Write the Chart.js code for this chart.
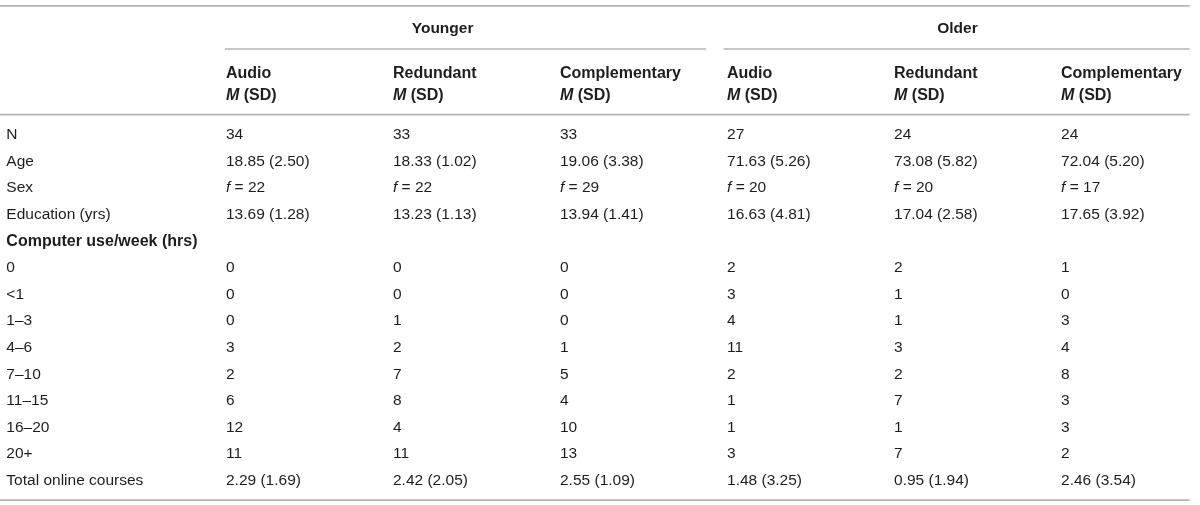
<!DOCTYPE html>
<html>
<head>
<meta charset="utf-8">
<script src="https://cdn.jsdelivr.net/npm/chart.js@4.4.1/dist/chart.umd.min.js"></script>
<style>
  html, body { margin: 0; padding: 0; background: #ffffff; }
  #wrap { width: 1200px; height: 505px; position: relative; }
</style>
</head>
<body>
<div id="wrap"><canvas id="c"></canvas></div>
<script>
// ---------- DATA ----------
const groupLabels = ["Younger", "Older"];
const conditionLabels = ["Audio", "Redundant", "Complementary", "Audio", "Redundant", "Complementary"];
const statLabel = ["M", " (SD)"];
const rowLabels = ["N", "Age", "Sex", "Education (yrs)", "Computer use/week (hrs)",
  "0", "<1", "1–3", "4–6", "7–10", "11–15", "16–20", "20+", "Total online courses"];
const sectionRow = 4; // bold header row without values

const nValues      = [34, 33, 33, 27, 24, 24];
const ageMean      = [18.85, 18.33, 19.06, 71.63, 73.08, 72.04];
const ageSD        = [2.50, 1.02, 3.38, 5.26, 5.82, 5.20];
const sexFemale    = [22, 22, 29, 20, 20, 17];
const eduMean      = [13.69, 13.23, 13.94, 16.63, 17.04, 17.65];
const eduSD        = [1.28, 1.13, 1.41, 4.81, 2.58, 3.92];
const use0         = [0, 0, 0, 2, 2, 1];
const useLt1       = [0, 0, 0, 3, 1, 0];
const use1to3      = [0, 1, 0, 4, 1, 3];
const use4to6      = [3, 2, 1, 11, 3, 4];
const use7to10     = [2, 7, 5, 2, 2, 8];
const use11to15    = [6, 8, 4, 1, 7, 3];
const use16to20    = [12, 4, 10, 1, 1, 3];
const use20plus    = [11, 11, 13, 3, 7, 2];
const coursesMean  = [2.29, 2.42, 2.55, 1.48, 0.95, 2.46];
const coursesSD    = [1.69, 2.05, 1.09, 3.25, 1.94, 3.54];

// ---------- build cells ----------
const msd = (m, s) => m.map((v, i) => ({ text: v.toFixed(2) + " (" + s[i].toFixed(2) + ")" }));
const plain = a => a.map(v => ({ text: String(v) }));
const rowCells = [
  plain(nValues),
  msd(ageMean, ageSD),
  sexFemale.map(v => ({ ital: "f", text: " = " + v })),
  msd(eduMean, eduSD),
  null,
  plain(use0), plain(useLt1), plain(use1to3), plain(use4to6), plain(use7to10),
  plain(use11to15), plain(use16to20), plain(use20plus),
  msd(coursesMean, coursesSD)
];

const points = [];
rowCells.forEach((cells, r) => {
  if (!cells) return;
  cells.forEach((cell, c) => points.push({ x: c, y: r, cell: cell }));
});

// layout in scale units (columns / rows)
const labelCol = -1.315;
const groupCenters = [1.297, 4.38];
const groupLines = [[-0.006, 2.874], [2.98, 5.77]];
const topLineY = -4.85, groupLineY = -3.23, condY = -2.3, statY = -1.47, headLineY = -0.76, bottomLineY = 13.73;
const groupTextY = -4.0;

const FONT = '"Liberation Sans", Arial, Helvetica, sans-serif';
const SIZE = 15.5;
const BSIZE = 16;
const TEXT = '#1e1e1e';
const RULE = '#b4b4b4';

const tablePlugin = {
  id: 'tableDraw',
  afterDatasetsDraw(chart) {
    const ctx = chart.ctx;
    const xs = chart.scales.x, ys = chart.scales.y;
    const X = v => xs.getPixelForValue(v), Y = v => ys.getPixelForValue(v);
    ctx.save();
    // rules
    ctx.strokeStyle = RULE;
    ctx.lineWidth = 1.6;
    const hline = (x0, x1, y) => { ctx.beginPath(); ctx.moveTo(x0, Y(y)); ctx.lineTo(x1, Y(y)); ctx.stroke(); };
    hline(X(xs.min), X(5.77), topLineY);
    groupLines.forEach(g => hline(X(g[0]), X(g[1]), groupLineY));
    hline(X(xs.min), X(5.77), headLineY);
    hline(X(xs.min), X(5.77), bottomLineY);

    ctx.fillStyle = TEXT;
    ctx.textBaseline = 'middle';
    // group headers
    ctx.font = 'bold ' + SIZE + 'px ' + FONT;
    ctx.textAlign = 'center';
    groupLabels.forEach((g, i) => ctx.fillText(g, X(groupCenters[i]), Y(groupTextY)));
    // condition headers
    ctx.textAlign = 'left';
    conditionLabels.forEach((c, i) => {
      ctx.font = 'bold ' + BSIZE + 'px ' + FONT;
      ctx.fillText(c, X(i), Y(condY));
      ctx.font = 'italic bold ' + BSIZE + 'px ' + FONT;
      ctx.fillText(statLabel[0], X(i), Y(statY));
      const w = ctx.measureText(statLabel[0]).width;
      ctx.font = 'bold ' + BSIZE + 'px ' + FONT;
      ctx.fillText(statLabel[1], X(i) + w, Y(statY));
    });
    // row labels
    rowLabels.forEach((lab, r) => {
      ctx.font = (r === sectionRow ? 'bold ' + BSIZE : SIZE) + 'px ' + FONT;
      ctx.fillText(lab, X(labelCol), Y(r));
    });
    // cells through dataset elements
    const meta = chart.getDatasetMeta(0);
    meta.data.forEach((el, i) => {
      const cell = points[i].cell;
      let x = el.x;
      if (cell.ital) {
        ctx.font = 'italic ' + SIZE + 'px ' + FONT;
        ctx.fillText(cell.ital, x, el.y);
        x += ctx.measureText(cell.ital).width;
      }
      ctx.font = SIZE + 'px ' + FONT;
      ctx.fillText(cell.text, x, el.y);
    });
    ctx.restore();
  }
};

new Chart(document.getElementById('c'), {
  type: 'scatter',
  data: { datasets: [{ data: points, pointRadius: 0, pointHoverRadius: 0, showLine: false }] },
  options: {
    animation: false,
    responsive: true,
    maintainAspectRatio: false,
    layout: { padding: 0 },
    events: [],
    plugins: { legend: { display: false }, tooltip: { enabled: false } },
    scales: {
      x: { type: 'linear', display: false, min: -1.353, max: 5.832 },
      y: { type: 'linear', display: false, reverse: true, min: -5.07, max: 13.915 }
    }
  },
  plugins: [tablePlugin]
});
</script>
</body>
</html>
